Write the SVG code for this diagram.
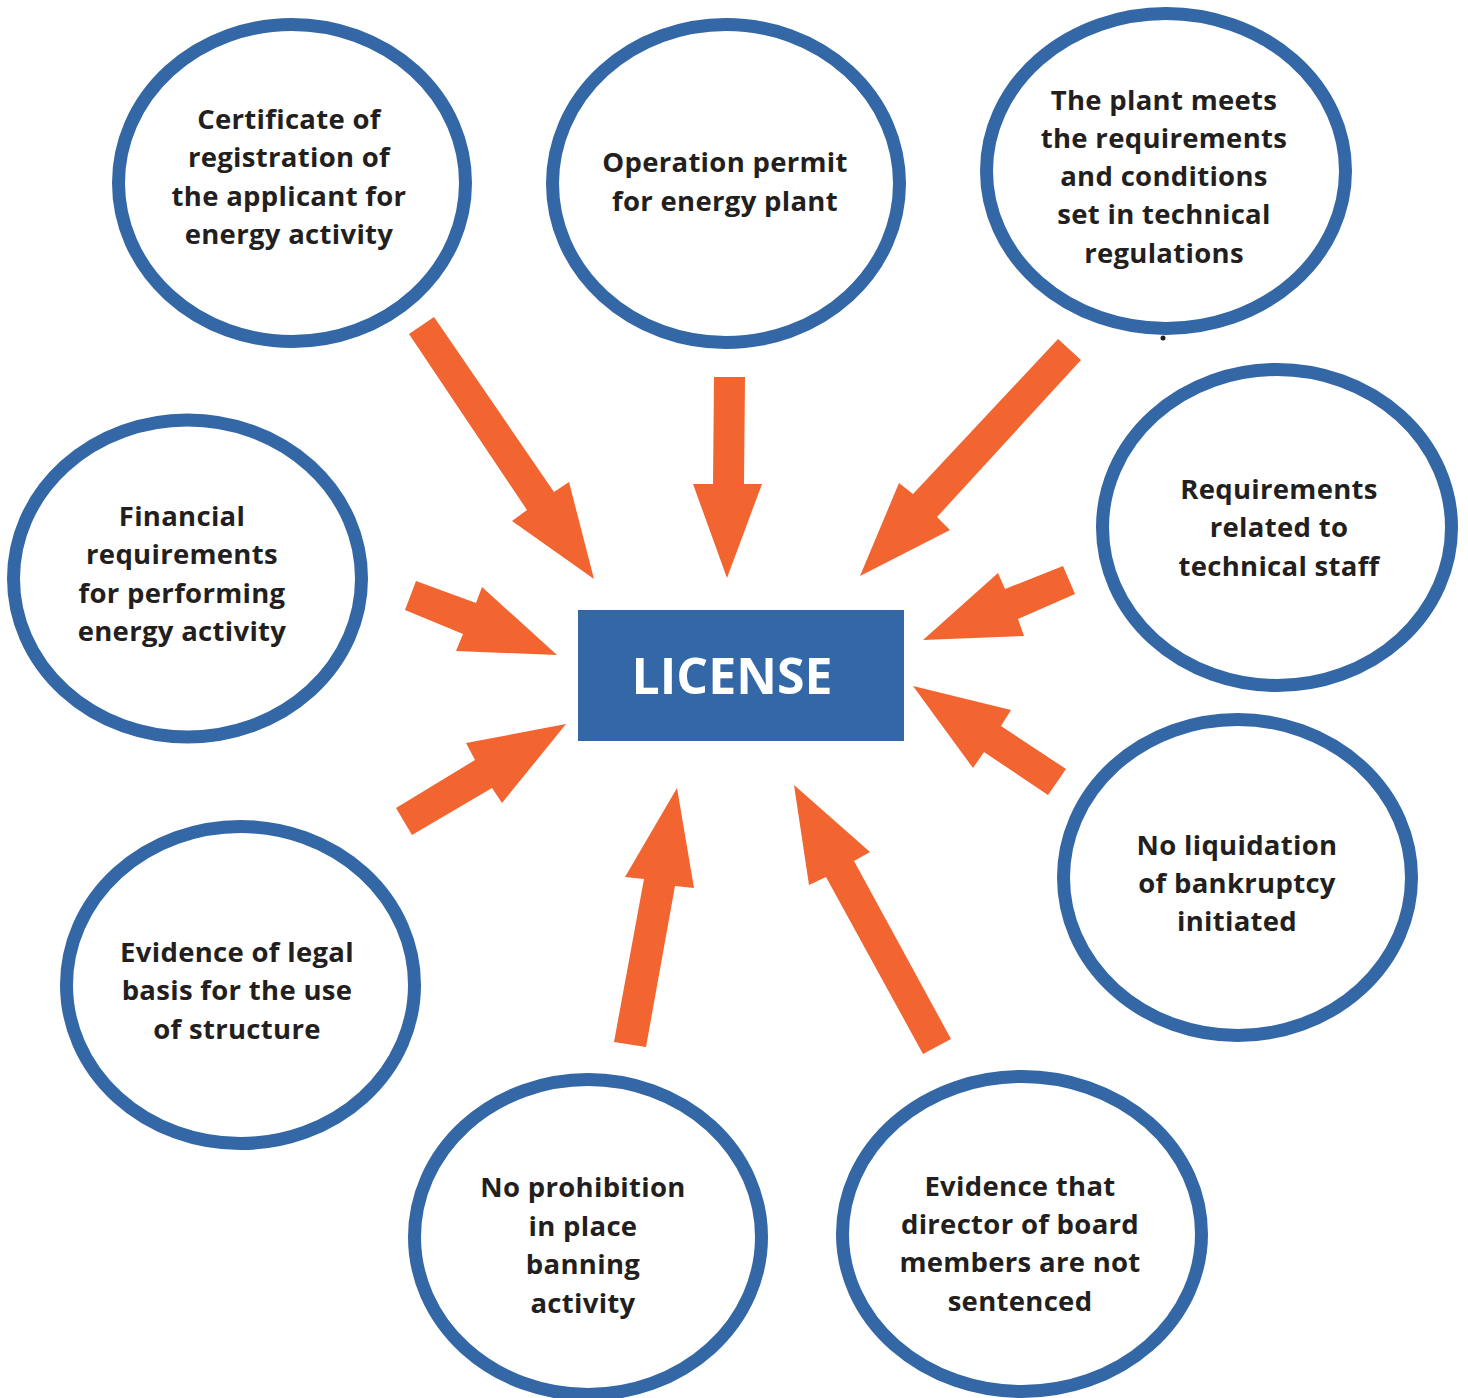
<svg xmlns="http://www.w3.org/2000/svg" width="1468" height="1398" viewBox="0 0 1468 1398">
<style>
.node ellipse{fill:#ffffff;stroke:#3367a6;stroke-width:13}
.lbl{font-family:"Open Sans","Noto Sans","Liberation Sans",sans-serif;font-weight:700;font-size:27.5px;letter-spacing:0.3px;fill:#231f20;text-anchor:middle}
.arrow{fill:#f26430}
.main{font-family:"Open Sans","Noto Sans","Liberation Sans",sans-serif;font-weight:700;font-size:50px;fill:#ffffff;text-anchor:middle}
</style>
<rect width="1468" height="1398" fill="#ffffff"/>
<g id="connectors">
<polygon class="arrow" points="409,334 434,317 554,492 569,482 594,579 512,521 527,510"/>
<polygon class="arrow" points="714,377 745,377 744,484 762,484 727,578 693,484 713,484"/>
<polygon class="arrow" points="1058,339 1081,360 937,517 950,530 860,576 899,483 913,494"/>
<polygon class="arrow" points="1063,566 1005,589 998,573 923,640 1024,636 1018,619 1075,594"/>
<polygon class="arrow" points="913,686 1011,710 1001,726 1066,769 1048,795 984,752 973,768"/>
<polygon class="arrow" points="923,1054 826,877 809,885 794,785 870,852 854,861 951,1039"/>
<polygon class="arrow" points="614,1042 644,879 625,877 677,788 694,888 675,886 646,1047"/>
<polygon class="arrow" points="396,808 475,760 466,743 566,724 502,803 492,788 412,835"/>
<polygon class="arrow" points="416,581 476,603 482,587 557,655 456,651 463,634 405,610"/>
</g>
<g id="license">
<rect x="578" y="610" width="326" height="131" fill="#3367a6"/>
<text class="main" x="732" y="694">LICENSE</text>
</g>
<g id="n1" class="node">
<ellipse cx="292" cy="183" rx="173.5" ry="158.5"/>
<text class="lbl"><tspan x="289" y="129">Certificate of</tspan><tspan x="289" y="167">registration of</tspan><tspan x="289" y="206">the applicant for</tspan><tspan x="289" y="244">energy activity</tspan></text>
</g>
<g id="n2" class="node">
<ellipse cx="726" cy="183.5" rx="173.5" ry="159"/>
<text class="lbl"><tspan x="725" y="172">Operation permit</tspan><tspan x="725" y="211">for energy plant</tspan></text>
</g>
<g id="n3" class="node">
<ellipse cx="1166" cy="171" rx="179.5" ry="157.5"/>
<circle cx="1163" cy="338" r="2.5" fill="#231f20"/>
<text class="lbl"><tspan x="1164" y="110">The plant meets</tspan><tspan x="1164" y="148">the requirements</tspan><tspan x="1164" y="186">and conditions</tspan><tspan x="1164" y="224">set in technical</tspan><tspan x="1164" y="263">regulations</tspan></text>
</g>
<g id="n4" class="node">
<ellipse cx="1277" cy="527.5" rx="174.5" ry="158"/>
<text class="lbl"><tspan x="1279" y="499">Requirements</tspan><tspan x="1279" y="537">related to</tspan><tspan x="1279" y="576">technical staff</tspan></text>
</g>
<g id="n5" class="node">
<ellipse cx="1237.5" cy="877.5" rx="174" ry="158"/>
<text class="lbl"><tspan x="1237" y="855">No liquidation</tspan><tspan x="1237" y="893">of bankruptcy</tspan><tspan x="1237" y="931">initiated</tspan></text>
</g>
<g id="n6" class="node">
<ellipse cx="1022" cy="1234" rx="179.5" ry="157.5"/>
<text class="lbl"><tspan x="1020" y="1196">Evidence that</tspan><tspan x="1020" y="1234">director of board</tspan><tspan x="1020" y="1272">members are not</tspan><tspan x="1020" y="1311">sentenced</tspan></text>
</g>
<g id="n7" class="node">
<ellipse cx="588" cy="1237" rx="173.5" ry="157.5"/>
<text class="lbl"><tspan x="583" y="1197">No prohibition</tspan><tspan x="583" y="1236">in place</tspan><tspan x="583" y="1274">banning</tspan><tspan x="583" y="1313">activity</tspan></text>
</g>
<g id="n8" class="node">
<ellipse cx="240.5" cy="985" rx="174" ry="158.5"/>
<text class="lbl"><tspan x="237" y="962">Evidence of legal</tspan><tspan x="237" y="1000">basis for the use</tspan><tspan x="237" y="1039">of structure</tspan></text>
</g>
<g id="n9" class="node">
<ellipse cx="187.5" cy="578.5" rx="174" ry="158.5"/>
<text class="lbl"><tspan x="182" y="526">Financial</tspan><tspan x="182" y="564">requirements</tspan><tspan x="182" y="603">for performing</tspan><tspan x="182" y="641">energy activity</tspan></text>
</g>
</svg>
